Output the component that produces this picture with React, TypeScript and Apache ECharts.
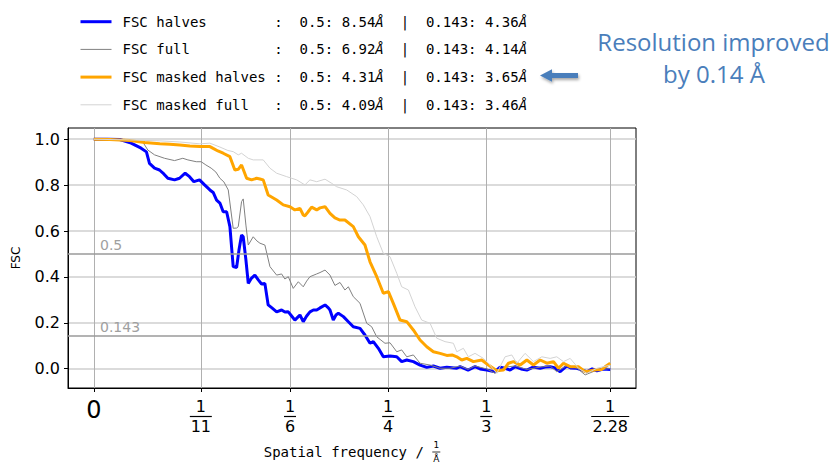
import React, { useEffect, useRef } from "react";
import * as echarts from "echarts";

// ---------- data ----------
const SERIES_NAMES = ["FSC halves", "FSC full", "FSC masked halves", "FSC masked full"];
const RES_05 = ["8.54", "6.92", "4.31", "4.09"];
const RES_0143 = ["4.36", "4.14", "3.65", "3.46"];
const SERIES_COLORS = ["#0000ff", "#808080", "#ffa500", "#d3d3d3"];
const SERIES_WIDTHS = [3, 1, 3, 1];

const X_TICK_VALUES = [0, 1 / 11, 1 / 6, 1 / 4, 1 / 3, 1 / 2.28];
const X_TICK_DENOMS = ["", "11", "6", "4", "3", "2.28"];
const Y_TICK_VALUES = [0, 0.2, 0.4, 0.6, 0.8, 1.0];
const THRESHOLDS = [0.5, 0.143];
const THRESHOLD_LABELS = ["0.5", "0.143"];

const halvesFreq = [0, 0.0119, 0.0221, 0.0317, 0.0402, 0.0447, 0.0473, 0.0516, 0.0558, 0.0595, 0.0629, 0.0686, 0.0728, 0.0776, 0.0813, 0.0850, 0.0898, 0.0941, 0.0986, 0.1014, 0.1043, 0.1071, 0.1099, 0.1128, 0.1156, 0.1184, 0.1213, 0.1233, 0.1255, 0.1269, 0.1292, 0.1312, 0.1340, 0.1368, 0.1397, 0.1425, 0.1453, 0.1481, 0.1513, 0.1553, 0.1595, 0.1623, 0.1652, 0.1680, 0.1708, 0.1737, 0.1751, 0.1779, 0.1808, 0.1836, 0.1865, 0.1893, 0.1921, 0.1964, 0.1992, 0.2006, 0.2034, 0.2057, 0.2077, 0.2120, 0.2162, 0.2204, 0.2261, 0.2303, 0.2346, 0.2374, 0.2417, 0.2459, 0.2516, 0.2573, 0.2615, 0.2658, 0.2714, 0.2771, 0.2828, 0.2884, 0.2941, 0.2998, 0.3083, 0.3111, 0.3179, 0.3238, 0.3281, 0.3338, 0.3408, 0.3451, 0.3493, 0.3536, 0.3578, 0.3629, 0.3678, 0.3731, 0.3791, 0.3833, 0.3876, 0.3918, 0.3961, 0.4018, 0.4054, 0.4103, 0.4148, 0.4188, 0.4233, 0.4273, 0.4327, 0.4386];
const halvesFsc = [1.000, 1.000, 0.999, 0.983, 0.961, 0.945, 0.895, 0.874, 0.866, 0.849, 0.830, 0.823, 0.830, 0.852, 0.837, 0.815, 0.823, 0.801, 0.779, 0.768, 0.735, 0.722, 0.684, 0.684, 0.619, 0.445, 0.441, 0.517, 0.583, 0.575, 0.474, 0.372, 0.395, 0.408, 0.387, 0.369, 0.372, 0.278, 0.265, 0.248, 0.256, 0.247, 0.248, 0.230, 0.212, 0.227, 0.234, 0.205, 0.230, 0.248, 0.256, 0.256, 0.265, 0.278, 0.265, 0.256, 0.212, 0.234, 0.242, 0.227, 0.205, 0.183, 0.176, 0.147, 0.111, 0.118, 0.089, 0.052, 0.055, 0.052, 0.031, 0.038, 0.031, 0.016, 0.006, 0.012, 0.002, 0.006, 0.002, 0.009, -0.006, 0.009, -0.001, -0.006, -0.013, 0.007, 0.002, -0.006, 0.009, -0.001, -0.006, 0.007, 0.002, 0.007, 0.009, 0.003, -0.013, 0.012, 0.003, 0.002, -0.006, -0.013, -0.001, -0.009, -0.001, -0.003];

const fullFreq = [0, 0.0263, 0.0416, 0.0459, 0.0516, 0.0601, 0.0686, 0.0756, 0.0799, 0.0870, 0.0912, 0.0952, 0.0997, 0.1037, 0.1071, 0.1105, 0.1142, 0.1184, 0.1213, 0.1227, 0.1255, 0.1269, 0.1292, 0.1312, 0.1354, 0.1385, 0.1411, 0.1453, 0.1496, 0.1553, 0.1595, 0.1623, 0.1652, 0.1694, 0.1737, 0.1779, 0.1808, 0.1836, 0.1893, 0.1921, 0.1964, 0.2006, 0.2048, 0.2091, 0.2133, 0.2162, 0.2204, 0.2261, 0.2318, 0.2360, 0.2403, 0.2473, 0.2516, 0.2573, 0.2615, 0.2658, 0.2714, 0.2771, 0.2856, 0.2941, 0.3026, 0.3111, 0.3179, 0.3238, 0.3338, 0.3408, 0.3493, 0.3578, 0.3678, 0.3791, 0.3876, 0.3932, 0.4018, 0.4103, 0.4173, 0.4273, 0.4386];
const fullFsc = [1.000, 0.999, 0.988, 0.953, 0.932, 0.917, 0.907, 0.917, 0.910, 0.902, 0.902, 0.888, 0.874, 0.857, 0.830, 0.814, 0.779, 0.612, 0.613, 0.619, 0.728, 0.740, 0.626, 0.539, 0.575, 0.557, 0.547, 0.539, 0.445, 0.408, 0.413, 0.391, 0.401, 0.350, 0.379, 0.357, 0.382, 0.401, 0.413, 0.419, 0.430, 0.408, 0.363, 0.376, 0.343, 0.357, 0.314, 0.285, 0.198, 0.183, 0.139, 0.111, 0.113, 0.074, 0.082, 0.052, 0.060, 0.024, 0.016, 0.002, 0.002, 0.012, -0.003, 0.012, -0.001, -0.020, 0.007, 0.012, -0.003, 0.007, 0.012, -0.013, 0.014, 0.003, -0.027, -0.006, 0.001];

const maskedHalvesFreq = [0, 0.0136, 0.0306, 0.0433, 0.0561, 0.0646, 0.0731, 0.0816, 0.0901, 0.0986, 0.1014, 0.1054, 0.1099, 0.1156, 0.1198, 0.1227, 0.1255, 0.1298, 0.1340, 0.1383, 0.1411, 0.1439, 0.1481, 0.1553, 0.1609, 0.1666, 0.1708, 0.1751, 0.1779, 0.1793, 0.1819, 0.1850, 0.1893, 0.1921, 0.1964, 0.2006, 0.2048, 0.2091, 0.2133, 0.2204, 0.2247, 0.2303, 0.2346, 0.2403, 0.2459, 0.2502, 0.2544, 0.2601, 0.2658, 0.2714, 0.2771, 0.2828, 0.2884, 0.2941, 0.2998, 0.3043, 0.3083, 0.3125, 0.3168, 0.3224, 0.3295, 0.3351, 0.3423, 0.3479, 0.3522, 0.3564, 0.3621, 0.3678, 0.3734, 0.3791, 0.3848, 0.3904, 0.3947, 0.3989, 0.4046, 0.4116, 0.4173, 0.4244, 0.4315, 0.4352, 0.4386];
const maskedHalvesFsc = [1.000, 0.999, 0.994, 0.986, 0.980, 0.978, 0.975, 0.971, 0.968, 0.968, 0.960, 0.949, 0.939, 0.924, 0.866, 0.869, 0.888, 0.830, 0.823, 0.830, 0.827, 0.823, 0.757, 0.735, 0.714, 0.706, 0.692, 0.699, 0.670, 0.666, 0.683, 0.704, 0.692, 0.701, 0.706, 0.677, 0.657, 0.648, 0.648, 0.619, 0.575, 0.539, 0.466, 0.401, 0.329, 0.336, 0.285, 0.212, 0.205, 0.169, 0.125, 0.096, 0.074, 0.067, 0.058, 0.060, 0.052, 0.038, 0.045, 0.031, 0.038, 0.016, -0.009, -0.006, 0.024, 0.031, 0.016, 0.038, 0.016, 0.038, 0.024, 0.031, 0.002, 0.024, 0.009, 0.009, -0.013, -0.006, -0.003, 0.012, 0.024];

const maskedFullFreq = [0, 0.0306, 0.0561, 0.0731, 0.0901, 0.0986, 0.1071, 0.1139, 0.1184, 0.1227, 0.1255, 0.1312, 0.1354, 0.1439, 0.1496, 0.1553, 0.1638, 0.1723, 0.1793, 0.1836, 0.1893, 0.1964, 0.2020, 0.2063, 0.2148, 0.2233, 0.2289, 0.2346, 0.2403, 0.2459, 0.2516, 0.2573, 0.2615, 0.2672, 0.2728, 0.2785, 0.2856, 0.2913, 0.2983, 0.3054, 0.3083, 0.3139, 0.3181, 0.3238, 0.3309, 0.3351, 0.3423, 0.3493, 0.3550, 0.3593, 0.3663, 0.3734, 0.3805, 0.3876, 0.3932, 0.3989, 0.4046, 0.4116, 0.4188, 0.4273, 0.4386];
const maskedFullFsc = [1.000, 0.997, 0.993, 0.988, 0.980, 0.983, 0.966, 0.951, 0.946, 0.932, 0.939, 0.917, 0.910, 0.910, 0.874, 0.852, 0.837, 0.823, 0.801, 0.823, 0.815, 0.826, 0.808, 0.793, 0.779, 0.750, 0.714, 0.663, 0.575, 0.503, 0.488, 0.416, 0.357, 0.343, 0.270, 0.212, 0.198, 0.133, 0.118, 0.111, 0.074, 0.089, 0.052, 0.067, 0.045, 0.024, -0.020, 0.052, 0.060, 0.024, 0.067, 0.031, 0.052, 0.045, 0.052, 0.031, 0.045, 0.002, -0.020, 0.002, 0.016];

const SERIES_FREQ = [halvesFreq, fullFreq, maskedHalvesFreq, maskedFullFreq];
const SERIES_FSC = [halvesFsc, fullFsc, maskedHalvesFsc, maskedFullFsc];

const ANNOTATION_LINES = ["Resolution improved", "by 0.14 Å"];

// ---------- helpers ----------
const MONO = "DejaVu Sans Mono";
const nb = (s: string) => s.replace(/ /g, "\u00a0");

function pairs(xs: number[], ys: number[]) {
  const n = Math.min(xs.length, ys.length);
  const out: number[][] = [];
  for (let i = 0; i < n; i++) out.push([xs[i], ys[i]]);
  return out;
}

function legendLabel(name: string) {
  const i = SERIES_NAMES.indexOf(name);
  const head = nb(name.padEnd(18, " ") + ":  0.5: " + RES_05[i]);
  const tail = nb("  0.143: " + RES_0143[i]);
  return `{sp| }{t|${head}}{a|Å}{t|${nb("  ")}}{v|${"|"}}{t|${tail}}{a|Å}`;
}

function xTickLabel(v: number) {
  const i = X_TICK_VALUES.findIndex((t) => Math.abs(t - v) < 1e-6);
  if (i < 0) return "";
  const d = X_TICK_DENOMS[i];
  if (!d) return "{z|0}";
  const bar = d.length === 1 ? "b1" : d.length === 2 ? "b2" : "b4";
  return `{n|1}\n{${bar}| }\n{d|${d}}`;
}

export default function App() {
  const ref = useRef<HTMLDivElement>(null);

  useEffect(() => {
    if (!ref.current) return;
    const chart = echarts.init(ref.current, undefined, { renderer: "svg" });

    const series: any[] = SERIES_NAMES.map((name, i) => ({
      name,
      type: "line",
      data: pairs(SERIES_FREQ[i], SERIES_FSC[i]),
      symbol: "none",
      showSymbol: false,
      color: SERIES_COLORS[i],
      lineStyle: { color: SERIES_COLORS[i], width: SERIES_WIDTHS[i] },
      z: 3 + i,
    }));

    series[0].markLine = {
      silent: true,
      symbol: ["none", "none"],
      animation: false,
      precision: 3,
      lineStyle: { color: "#9a9a9a", width: 1.5, type: "solid" },
      label: {
        show: true,
        position: "insideStartTop",
        distance: [32, 2],
        color: "#a0a0a0",
        fontSize: 14,
        fontFamily: "DejaVu Sans",
        formatter: (p: any) => THRESHOLD_LABELS[p.dataIndex] ?? String(p.value),
      },
      emphasis: { disabled: true },
      data: THRESHOLDS.map((t, k) => ({ yAxis: t, name: THRESHOLD_LABELS[k] })),
    };

    const option: any = {
      animation: false,
      backgroundColor: "#ffffff",
      textStyle: { fontFamily: "DejaVu Sans" },
      grid: {
        left: 68,
        top: 128,
        right: 198,
        bottom: 76,
        show: true,
        borderColor: "#000",
        borderWidth: 1,
        backgroundColor: "transparent",
        containLabel: false,
        outerBoundsMode: "none",
      },
      legend: {
        orient: "vertical",
        left: 74,
        top: 9.7,
        itemWidth: 31,
        itemHeight: 14,
        itemGap: 13.7,
        selectedMode: false,
        data: SERIES_NAMES,
        itemStyle: { opacity: 0 },
        lineStyle: { width: "inherit" },
        formatter: legendLabel,
        textStyle: {
          color: "#000",
          rich: {
            sp: { width: 6, fontSize: 14, lineHeight: 14 },
            t: { fontFamily: MONO, fontSize: 14, lineHeight: 14, color: "#000" },
            v: { fontFamily: MONO, fontSize: 14, lineHeight: 14, color: "#000" },
            a: { fontFamily: MONO, fontStyle: "italic", fontSize: 14, lineHeight: 14, color: "#000" },
          },
        },
      },
      xAxis: {
        type: "value",
        min: -0.0219,
        max: 0.4605,
        axisLine: { show: true, onZero: false, lineStyle: { color: "#000", width: 1 } },
        axisTick: { show: true, customValues: X_TICK_VALUES, length: 4, inside: false, lineStyle: { color: "#000" } },
        axisLabel: {
          customValues: X_TICK_VALUES,
          formatter: xTickLabel,
          margin: 10,
          color: "#000",
          rich: {
            z: { fontSize: 24, lineHeight: 24, fontFamily: "DejaVu Sans", color: "#000" },
            n: { fontSize: 16, lineHeight: 17, fontFamily: "DejaVu Sans", color: "#000" },
            d: { fontSize: 16, lineHeight: 16, fontFamily: "DejaVu Sans", color: "#000" },
            b1: { width: 12, height: 1.2, lineHeight: 3, fontSize: 1, backgroundColor: "#000", color: "transparent" },
            b2: { width: 22, height: 1.2, lineHeight: 3, fontSize: 1, backgroundColor: "#000", color: "transparent" },
            b4: { width: 38, height: 1.2, lineHeight: 3, fontSize: 1, backgroundColor: "#000", color: "transparent" },
          },
        },
        splitLine: { show: true, lineStyle: { color: "#b0b0b0", width: 1 } },
        name: "{p| }{s|1}\n{t|" + nb("Spatial frequency / ") + "}{b| }\n{p| }{s|Å}",
        nameLocation: "middle",
        nameGap: 54,
        nameMoveOverlap: false,
        nameTextStyle: {
          color: "#000",
          rich: {
            p: { width: 168.6, fontSize: 6, lineHeight: 6 },
            s: { width: 8, align: "center", fontSize: 9, lineHeight: 6, fontFamily: "DejaVu Sans", color: "#000" },
            t: { fontFamily: MONO, fontSize: 14, lineHeight: 8, color: "#000" },
            b: { width: 8, height: 0.8, lineHeight: 8, fontSize: 1, backgroundColor: "#000", color: "transparent" },
          },
        },
      },
      yAxis: {
        type: "value",
        min: -0.084,
        max: 1.049,
        axisLine: { show: true, onZero: false, lineStyle: { color: "#000", width: 1 } },
        axisTick: { show: true, customValues: Y_TICK_VALUES, length: 4, inside: false, lineStyle: { color: "#000" } },
        axisLabel: {
          customValues: Y_TICK_VALUES,
          formatter: (v: number) => v.toFixed(1),
          margin: 8,
          fontSize: 16,
          fontFamily: "DejaVu Sans",
          color: "#000",
        },
        splitLine: { show: true, lineStyle: { color: "#cfcfcf", width: 1.5 } },
        name: "FSC",
        nameLocation: "middle",
        nameRotate: 90,
        nameGap: 46,
        nameMoveOverlap: false,
        nameTextStyle: { fontFamily: "DejaVu Sans", fontSize: 12, color: "#000" },
      },
      series,
      graphic: [
        {
          type: "text",
          x: 713.5,
          y: 41,
          style: {
            text: ANNOTATION_LINES[0],
            fill: "#4a7ebb",
            fontSize: 24,
            fontFamily: "Open Sans",
            align: "center",
            verticalAlign: "middle",
            textAlign: "center",
            textVerticalAlign: "middle",
          },
        },
        {
          type: "text",
          x: 714,
          y: 73,
          style: {
            text: ANNOTATION_LINES[1],
            fill: "#4a7ebb",
            fontSize: 24,
            fontFamily: "Open Sans",
            align: "center",
            verticalAlign: "middle",
            textAlign: "center",
            textVerticalAlign: "middle",
          },
        },
        {
          type: "polygon",
          shape: {
            points: [
              [540, 75.5],
              [552, 69.3],
              [552, 73],
              [578, 73],
              [578, 78],
              [552, 78],
              [552, 81.7],
            ],
          },
          style: {
            fill: "#4a7ebb",
            shadowBlur: 3,
            shadowOffsetX: 1,
            shadowOffsetY: 2,
            shadowColor: "rgba(0,0,0,0.35)",
          },
        },
      ],
    };

    chart.setOption(option);
    return () => chart.dispose();
  }, []);

  return (
    <div
      ref={ref}
      style={{ position: "absolute", left: 0, top: 0, width: 834, height: 464, background: "#fff" }}
    />
  );
}
